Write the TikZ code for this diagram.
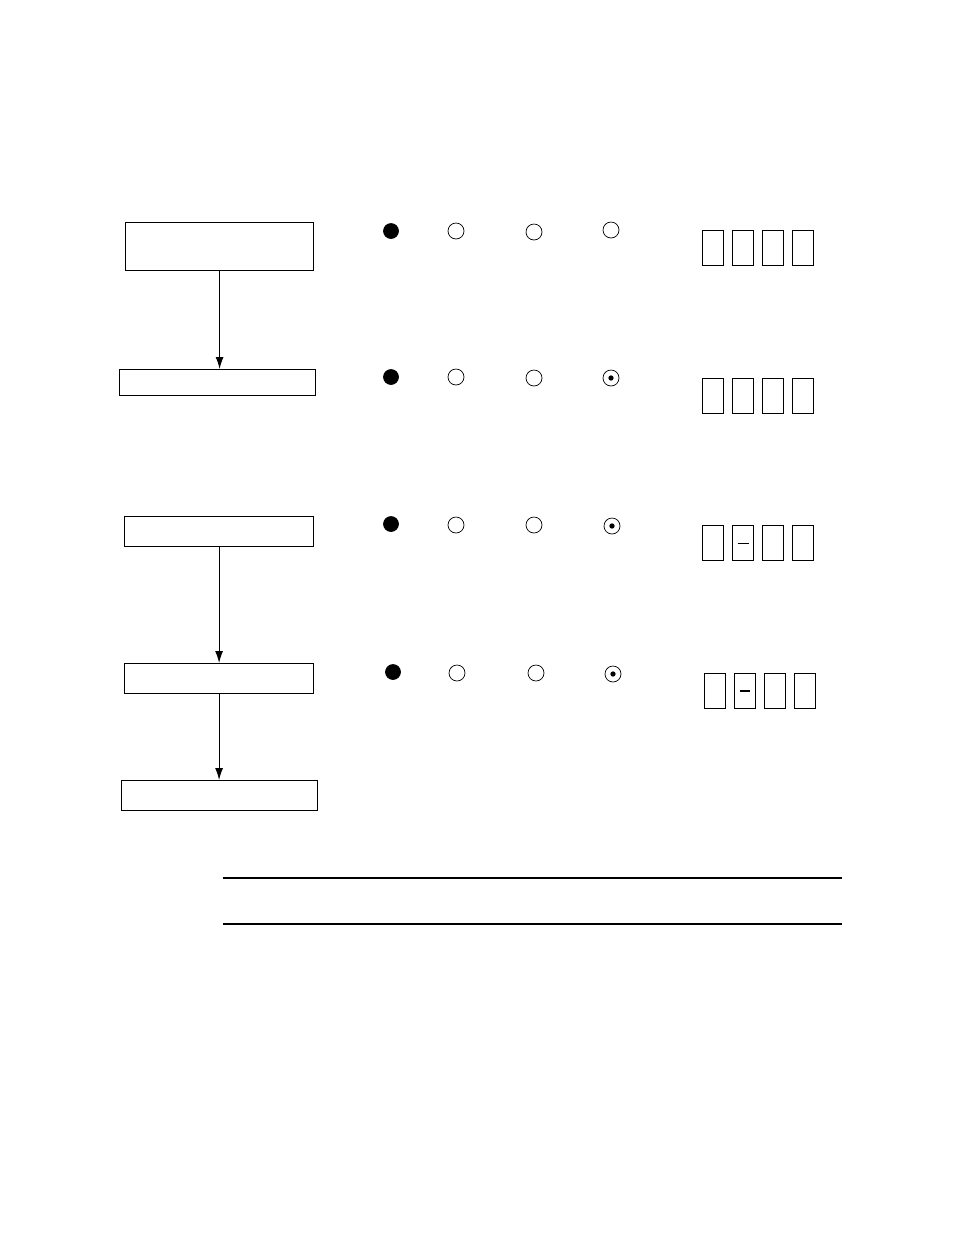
\documentclass[tikz,border=0pt]{standalone}
\usepackage{tikz}
\usetikzlibrary{arrows.meta}
\tikzset{every edge/.style={draw,-{Latex[length=2.4mm,width=1.6mm]},line width=0.6pt}}
\tikzstyle{stage}=[rectangle,draw=black,line width=0.7pt,inner sep=0pt,anchor=north west]
\tikzstyle{lampOn}=[circle,draw=black,fill=black,inner sep=0pt,minimum size=3mm]
\tikzstyle{lampOff}=[circle,draw=black,fill=white,line width=0.4pt,inner sep=0pt,minimum size=3.2mm]
\tikzstyle{lampDot}=[lampOff,path picture={\fill[black] (path picture bounding box.center) circle (1.5pt);}]
\tikzstyle{digit}=[rectangle,draw=black,line width=0.7pt,inner sep=0pt,minimum width=4.2mm,minimum height=6.9mm,anchor=north west]

\begin{document}
\begin{tikzpicture}[x=0.02cm,y=-0.02cm]
		\useasboundingbox (0,0) rectangle (954,1235);
		% flow boxes
		\node at (125,222) [stage,minimum width=3.76cm,minimum height=0.96cm] (s1) {};
		\node at (119,369) [stage,minimum width=3.92cm,minimum height=0.52cm] (s2) {};
		\node at (124,516) [stage,minimum width=3.78cm,minimum height=0.6cm] (s3) {};
		\node at (124,663) [stage,minimum width=3.78cm,minimum height=0.6cm] (s4) {};
		\node at (121,780) [stage,minimum width=3.92cm,minimum height=0.6cm] (s5) {};
		\draw (s1.south) edge (s1.south |- s2.north);
		\draw (s3.south) edge (s3.south |- s4.north);
		\draw (s4.south) edge (s4.south |- s5.north);
		% lamps
		\node at (391,231) [lampOn] (l11) {};
		\node at (456,231) [lampOff] (l12) {};
		\node at (534,232) [lampOff] (l13) {};
		\node at (611,230) [lampOff] (l14) {};
		\node at (391,377) [lampOn] (l21) {};
		\node at (456,377) [lampOff] (l22) {};
		\node at (534,378) [lampOff] (l23) {};
		\node at (611,378) [lampDot] (l24) {};
		\node at (391,524) [lampOn] (l31) {};
		\node at (456,525) [lampOff] (l32) {};
		\node at (534,525) [lampOff] (l33) {};
		\node at (612,526) [lampDot] (l34) {};
		\node at (393,672) [lampOn] (l41) {};
		\node at (457,673) [lampOff] (l42) {};
		\node at (536,673) [lampOff] (l43) {};
		\node at (613,674) [lampDot] (l44) {};
		% display digits
		\foreach \i/\x in {1/702,2/732,3/762,4/792} {
			\node at (\x,230) [digit] (d1\i) {};
			\node at (\x,378) [digit] (d2\i) {};
			\node at (\x,525) [digit] (d3\i) {};
		}
		\foreach \i/\x in {1/704,2/734,3/764,4/794} {
			\node at (\x,673) [digit] (d4\i) {};
		}
		\draw[line width=0.4pt] ([xshift=-0.11cm]d32.center) -- ([xshift=0.11cm]d32.center);
		\draw[line width=1.1pt] ([xshift=-0.1cm]d42.center) -- ([xshift=0.1cm]d42.center);
		% rules
		\coordinate (r1a) at (223,878);
		\coordinate (r1b) at (842,878);
		\coordinate (r2a) at (223,924);
		\coordinate (r2b) at (842,924);
		\draw[line width=1.2pt] (r1a) -- (r1b);
		\draw[line width=0.6pt] (r2a) -- (r2b);
		\end{tikzpicture}
\end{document}
